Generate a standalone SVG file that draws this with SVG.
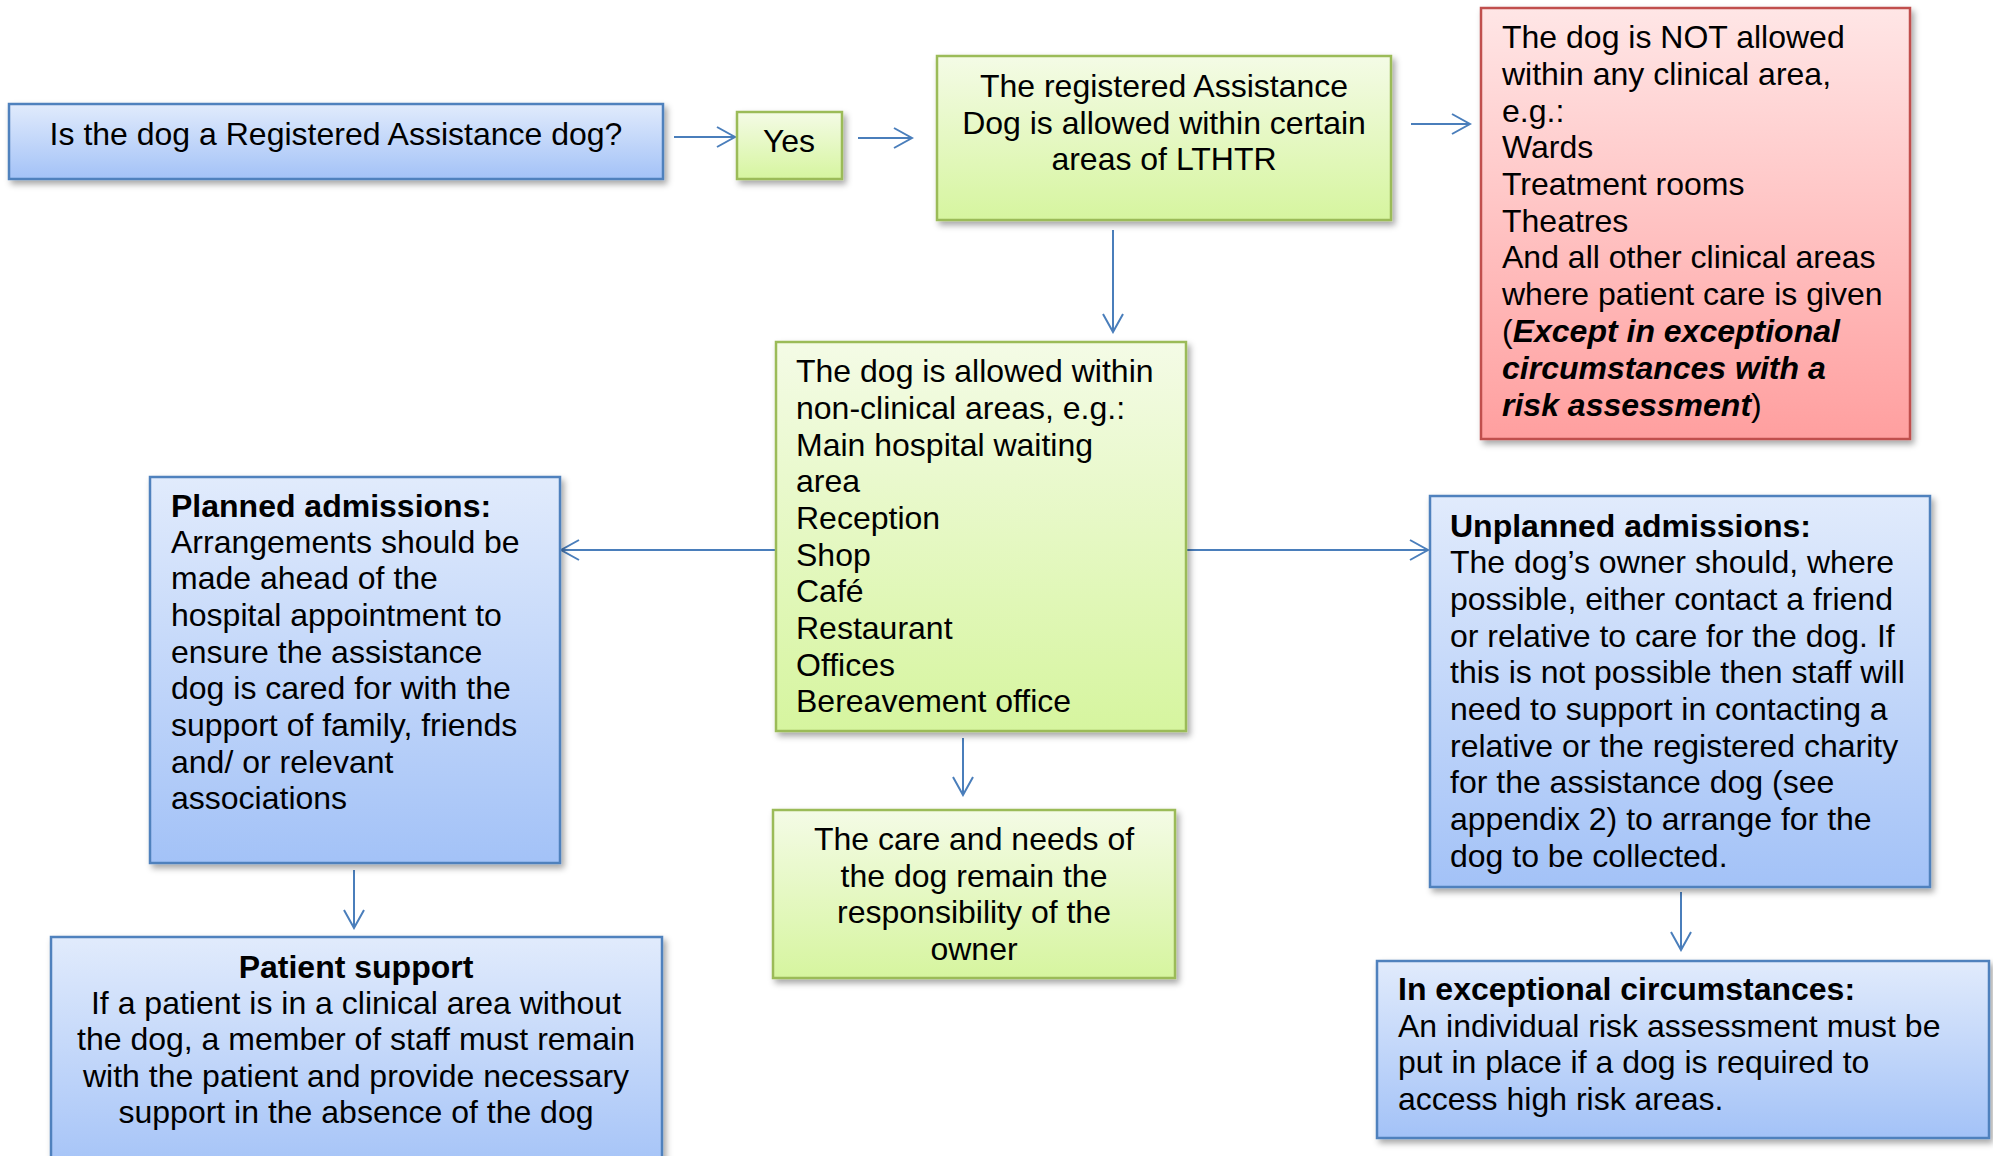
<svg xmlns="http://www.w3.org/2000/svg" width="1993" height="1156" viewBox="0 0 1993 1156">
<defs>
<linearGradient id="gBlue" x1="0" y1="0" x2="0" y2="1"><stop offset="0" stop-color="#e1ebfc"/><stop offset="1" stop-color="#a3c2f7"/></linearGradient>
<linearGradient id="gGreen" x1="0" y1="0" x2="0" y2="1"><stop offset="0" stop-color="#f4fbe6"/><stop offset="1" stop-color="#d6f59f"/></linearGradient>
<linearGradient id="gRed" x1="0" y1="0" x2="0" y2="1"><stop offset="0" stop-color="#ffe6e6"/><stop offset="1" stop-color="#ff9f9f"/></linearGradient>
<filter id="sh" x="-10%" y="-10%" width="120%" height="130%"><feDropShadow dx="3" dy="4" stdDeviation="3" flood-color="#000" flood-opacity="0.35"/></filter>
<marker id="arr" viewBox="-22 -12 24 24" markerWidth="24" markerHeight="24" refX="0" refY="0" orient="auto" markerUnits="userSpaceOnUse"><path d="M-18,-10 L0,0 L-18,10" fill="none" stroke="#4a7ebb" stroke-width="2"/></marker>
</defs>
<style>
.blue{fill:url(#gBlue);stroke:#4f81bd;stroke-width:2.5;filter:url(#sh)}
.green{fill:url(#gGreen);stroke:#9bbb59;stroke-width:2.5;filter:url(#sh)}
.red{fill:url(#gRed);stroke:#c0504d;stroke-width:2.5;filter:url(#sh)}
text{font-family:"Liberation Sans",Arial,sans-serif;font-size:32px;fill:#000}
.c{text-anchor:middle}
.b{font-weight:bold}
.bi{font-weight:bold;font-style:italic}
.con line{stroke:#4a7ebb;stroke-width:2;marker-end:url(#arr)}
</style>
<rect width="1993" height="1156" fill="#fff"/>

<g id="connectors" class="con">
<line x1="674" y1="137" x2="735" y2="137"/>
<line x1="858" y1="138" x2="912" y2="138"/>
<line x1="1411" y1="124" x2="1470" y2="124"/>
<line x1="1113" y1="230" x2="1113" y2="332"/>
<line x1="775" y1="550" x2="561" y2="550"/>
<line x1="1186" y1="550" x2="1428" y2="550"/>
<line x1="963" y1="738" x2="963" y2="795"/>
<line x1="354" y1="870" x2="354" y2="928"/>
<line x1="1681" y1="892" x2="1681" y2="950"/>
</g>

<g id="question">
<rect class="blue" x="9" y="104" width="654" height="75"/>
<text class="c" x="336" y="145">Is the dog a Registered Assistance dog?</text>
</g>

<g id="yes">
<rect class="green" x="737" y="112" width="105" height="67"/>
<text class="c" x="789" y="152">Yes</text>
</g>

<g id="allowed-certain">
<rect class="green" x="937" y="56" width="454" height="164"/>
<text class="c" x="1164" y="97">The registered Assistance</text>
<text class="c" x="1164" y="134">Dog is allowed within certain</text>
<text class="c" x="1164" y="170">areas of LTHTR</text>
</g>

<g id="not-allowed">
<rect class="red" x="1481" y="8" width="429" height="431"/>
<text x="1502" y="48">The dog is NOT allowed</text>
<text x="1502" y="85">within any clinical area,</text>
<text x="1502" y="122">e.g.:</text>
<text x="1502" y="158">Wards</text>
<text x="1502" y="195">Treatment rooms</text>
<text x="1502" y="232">Theatres</text>
<text x="1502" y="268">And all other clinical areas</text>
<text x="1502" y="305">where patient care is given</text>
<text x="1502" y="342">(<tspan class="bi">Except in exceptional</tspan></text>
<text x="1502" y="379" class="bi">circumstances with a</text>
<text x="1502" y="416"><tspan class="bi">risk assessment</tspan>)</text>
</g>

<g id="non-clinical">
<rect class="green" x="776" y="342" width="410" height="389"/>
<text x="796" y="382">The dog is allowed within</text>
<text x="796" y="419">non-clinical areas, e.g.:</text>
<text x="796" y="456">Main hospital waiting</text>
<text x="796" y="492">area</text>
<text x="796" y="529">Reception</text>
<text x="796" y="566">Shop</text>
<text x="796" y="602">Café</text>
<text x="796" y="639">Restaurant</text>
<text x="796" y="676">Offices</text>
<text x="796" y="712">Bereavement office</text>
</g>

<g id="planned">
<rect class="blue" x="150" y="477" width="410" height="386"/>
<text x="171" y="517" class="b">Planned admissions:</text>
<text x="171" y="553">Arrangements should be</text>
<text x="171" y="589">made ahead of the</text>
<text x="171" y="626">hospital appointment to</text>
<text x="171" y="663">ensure the assistance</text>
<text x="171" y="699">dog is cared for with the</text>
<text x="171" y="736">support of family, friends</text>
<text x="171" y="773">and/ or relevant</text>
<text x="171" y="809">associations</text>
</g>

<g id="unplanned">
<rect class="blue" x="1430" y="496" width="500" height="391"/>
<text x="1450" y="537" class="b">Unplanned admissions:</text>
<text x="1450" y="573">The dog’s owner should, where</text>
<text x="1450" y="610">possible, either contact a friend</text>
<text x="1450" y="647">or relative to care for the dog. If</text>
<text x="1450" y="683">this is not possible then staff will</text>
<text x="1450" y="720">need to support in contacting a</text>
<text x="1450" y="757">relative or the registered charity</text>
<text x="1450" y="793">for the assistance dog (see</text>
<text x="1450" y="830">appendix 2) to arrange for the</text>
<text x="1450" y="867">dog to be collected.</text>
</g>

<g id="care">
<rect class="green" x="773" y="810" width="402" height="168"/>
<text class="c" x="974" y="850">The care and needs of</text>
<text class="c" x="974" y="887">the dog remain the</text>
<text class="c" x="974" y="923">responsibility of the</text>
<text class="c" x="974" y="960">owner</text>
</g>

<g id="patient-support">
<rect class="blue" x="51" y="937" width="611" height="240"/>
<text class="c b" x="356" y="978">Patient support</text>
<text class="c" x="356" y="1014">If a patient is in a clinical area without</text>
<text class="c" x="356" y="1050">the dog, a member of staff must remain</text>
<text class="c" x="356" y="1087">with the patient and provide necessary</text>
<text class="c" x="356" y="1123">support in the absence of the dog</text>
</g>

<g id="exceptional">
<rect class="blue" x="1377" y="961" width="612" height="177"/>
<text x="1398" y="1000" class="b">In exceptional circumstances:</text>
<text x="1398" y="1037">An individual risk assessment must be</text>
<text x="1398" y="1073">put in place if a dog is required to</text>
<text x="1398" y="1110">access high risk areas.</text>
</g>
</svg>
